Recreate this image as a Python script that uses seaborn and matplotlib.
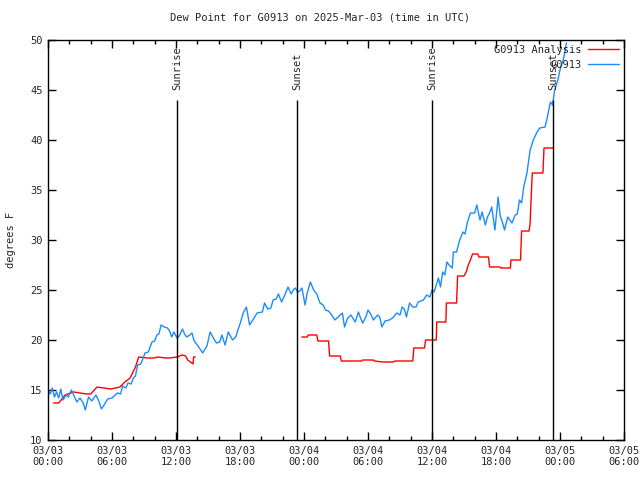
import numpy as np
import pandas as pd
import matplotlib
matplotlib.use("Agg")
import matplotlib.pyplot as plt
from matplotlib.lines import Line2D
import seaborn as sns
from matplotlib.ticker import MultipleLocator, FixedLocator

# ---------------- data (hours since 2025-03-03 00:00 UTC) ----------------
blue_hours = [0.0, 0.2, 0.4, 0.6, 0.8, 1.0, 1.2, 1.4, 1.7, 1.9, 2.2, 2.7, 3.0, 3.3, 3.5,
              3.8, 4.1, 4.5, 4.8, 5.0, 5.2, 5.6, 6.0, 6.5, 6.8, 7.0, 7.3, 7.5, 7.8, 8.0,
              8.2, 8.4, 8.7, 9.1, 9.4, 9.75, 10.0, 10.2, 10.4, 10.6, 10.9, 11.2, 11.4, 11.6,
              11.8, 12.1, 12.3, 12.6, 12.8, 13.0, 13.3, 13.5, 13.7, 14.0, 14.5, 14.9, 15.2,
              15.5, 15.8, 16.1, 16.3, 16.6, 16.9, 17.1, 17.3, 17.6, 17.8, 18.0, 18.3, 18.6,
              18.9, 19.2, 19.6, 20.1, 20.3, 20.6, 20.9, 21.1, 21.4, 21.6, 21.9, 22.2, 22.5,
              22.8, 23.0, 23.2, 23.4, 23.6, 23.8, 24.1, 24.3, 24.6, 24.9, 25.2, 25.5, 25.8,
              26.0, 26.3, 26.6, 26.9, 27.2, 27.6, 27.8, 28.1, 28.4, 28.8, 29.1, 29.3, 29.5,
              29.8, 30.0, 30.3, 30.5, 30.9, 31.1, 31.3, 31.6, 32.0, 32.3, 32.7, 33.0, 33.2,
              33.4, 33.6, 33.9, 34.2, 34.5, 34.7, 35.2, 35.5, 35.8, 36.0, 36.2, 36.4, 36.6,
              36.8, 37.0, 37.2, 37.4, 37.6, 37.9, 38.0, 38.3, 38.6, 38.9, 39.1, 39.3, 39.6,
              40.0, 40.2, 40.5, 40.7, 41.0, 41.2, 41.4, 41.6, 41.9, 42.2, 42.4, 42.6, 42.8,
              43.1, 43.5, 43.8, 44.0, 44.2, 44.4, 44.6, 44.9, 45.2, 45.5, 45.8, 46.1, 46.6,
              46.8, 47.1, 47.3, 47.5, 47.8, 48.0, 48.3, 48.5, 48.6]
blue_values = [15.0, 14.6, 15.2, 14.3, 14.8, 14.2, 15.1, 14.0, 14.5, 14.3, 15.0, 13.8, 14.2, 13.7, 13.0,
               14.3, 13.9, 14.5, 13.8, 13.1, 13.4, 14.1, 14.2, 14.7, 14.6, 15.4, 15.2, 15.7, 15.6, 16.2,
               16.4, 17.5, 17.6, 18.7, 18.8, 19.8, 19.9, 20.5, 20.6, 21.5, 21.3, 21.2, 20.9, 20.3,
               20.8, 20.2, 20.4, 21.1, 20.6, 20.3, 20.5, 20.7, 19.9, 19.5, 18.7, 19.4, 20.8,
               20.2, 19.7, 19.8, 20.5, 19.5, 20.8, 20.4, 20.0, 20.3, 21.0, 21.6, 22.7, 23.3,
               21.5, 22.0, 22.7, 22.8, 23.7, 23.1, 23.2, 24.0, 24.1, 24.6, 23.8, 24.5, 25.3,
               24.6, 25.0, 25.2, 24.8, 24.9, 25.2, 23.5, 24.7, 25.8, 25.0, 24.6, 23.7, 23.5,
               23.0, 22.9, 22.5, 22.0, 22.3, 22.7, 21.3, 22.2, 22.5, 21.8, 22.8, 22.2, 21.7,
               22.3, 23.0, 22.5, 22.0, 22.5, 22.3, 21.3, 21.9, 22.0, 22.2, 22.7, 22.5, 23.3,
               23.1, 22.3, 23.7, 23.3, 23.3, 23.8, 24.0, 24.5, 24.3, 25.0, 24.8, 25.5, 26.2,
               25.3, 26.8, 26.5, 27.8, 27.5, 27.2, 28.8, 28.8, 30.0, 30.8, 30.6, 31.7, 32.7,
               32.7, 33.5, 32.0, 32.8, 31.5, 32.3, 32.7, 33.3, 31.0, 34.3, 32.4, 31.8, 31.0,
               32.3, 31.7, 32.5, 32.6, 34.0, 33.7, 35.3, 36.7, 39.0, 40.0, 40.7, 41.2, 41.3,
               42.2, 43.8, 43.5, 45.0, 46.0, 47.0, 48.0, 49.0, 49.7]

red1_hours = [0.5, 1.0, 1.6, 2.4, 3.0, 3.6, 4.0, 4.6, 5.2, 5.9, 6.75, 7.2, 7.7, 8.2, 8.5,
              9.3, 9.9, 10.3, 11.0, 11.4, 12.1, 12.6, 12.9, 13.1, 13.6, 13.65, 13.8]
red1_values = [13.7, 13.7, 14.5, 14.8, 14.7, 14.6, 14.6, 15.3, 15.2, 15.1, 15.3, 15.8, 16.2, 17.3, 18.3,
               18.2, 18.2, 18.3, 18.2, 18.2, 18.3, 18.5, 18.4, 18.0, 17.6, 18.3, 18.3]
red2_hours = [23.8, 24.3, 24.4, 25.2, 25.3, 26.3, 26.4, 27.4, 27.5, 29.4, 29.5, 30.5, 30.6, 31.4,
              32.4, 32.5, 34.2, 34.3, 35.3, 35.4, 36.4, 36.45, 37.3, 37.35, 38.3, 38.4, 39.0,
              39.2, 39.4, 39.6, 39.8, 40.3, 40.4, 41.3, 41.4, 42.4, 42.45, 43.35, 43.4, 44.3,
              44.4, 45.1, 45.2, 45.3, 45.4, 46.4, 46.5, 47.4]
red2_values = [20.3, 20.3, 20.5, 20.5, 19.9, 19.9, 18.4, 18.4, 17.9, 17.9, 18.0, 18.0, 17.9, 17.8,
               17.8, 17.9, 17.9, 19.2, 19.2, 20.0, 20.0, 21.8, 21.8, 23.7, 23.7, 26.4, 26.4,
               26.8, 27.5, 28.0, 28.6, 28.6, 28.3, 28.3, 27.3, 27.3, 27.2, 27.2, 28.0, 28.0,
               30.9, 30.9, 31.7, 34.3, 36.7, 36.7, 39.2, 39.2]

event_hours = [12.09, 23.34, 36.0, 47.34]
event_labels = ["Sunrise", "Sunset", "Sunrise", "Sunset"]

xtick_hours = [0, 6, 12, 18, 24, 30, 36, 42, 48, 54]
xtick_labels = ["03/03\n00:00", "03/03\n06:00", "03/03\n12:00", "03/03\n18:00",
                "03/04\n00:00", "03/04\n06:00", "03/04\n12:00", "03/04\n18:00",
                "03/05\n00:00", "03/05\n06:00"]

series_names = ["G0913 Analysis", "G0913"]

# ---------------- styling ----------------
sns.set_style("white")
plt.rcParams["font.family"] = ["DejaVu Sans Mono"]
plt.rcParams["font.size"] = 7.5

RED = "#ff0000"
BLUE = "#1a8cff"

fig = plt.figure(figsize=(6.4, 4.8), dpi=100)
ax = fig.add_axes([48 / 640, 40 / 480, 576 / 640, 400 / 480])

red_df = pd.concat([
    pd.DataFrame({"hour": red1_hours, "value": red1_values, "seg": 1}),
    pd.DataFrame({"hour": red2_hours, "value": red2_values, "seg": 2}),
])
blue_df = pd.DataFrame({"hour": blue_hours, "value": blue_values})

sns.lineplot(data=red_df, x="hour", y="value", units="seg", estimator=None, sort=False,
             color=RED, lw=1.0, ax=ax, legend=False)
sns.lineplot(data=blue_df, x="hour", y="value", estimator=None, sort=False,
             color=BLUE, lw=1.0, ax=ax, legend=False)

for h, lab in zip(event_hours, event_labels):
    ax.vlines(h, 10, 44, color="black", lw=1.0)
    ax.text(h, 45, lab, rotation=90, ha="center", va="bottom", fontsize=7.5)

ax.set_xlim(0, 54)
ax.set_ylim(10, 50)
ax.xaxis.set_major_locator(FixedLocator(xtick_hours))
ax.set_xticklabels(xtick_labels)
ax.xaxis.set_minor_locator(MultipleLocator(2))
ax.yaxis.set_major_locator(MultipleLocator(5))
ax.tick_params(which="both", direction="in", top=True, right=True, bottom=True, left=True,
               color="black", width=1)
ax.tick_params(which="major", length=6, pad=4)
ax.tick_params(which="minor", length=3)
for s in ax.spines.values():
    s.set_color("black")
    s.set_linewidth(1)

ax.set_xlabel("")
ax.set_ylabel("degrees F", labelpad=10)
fig.suptitle("Dew Point for G0913 on 2025-Mar-03 (time in UTC)", y=0.975, fontsize=7.5)

handles = [Line2D([], [], color=RED, lw=1.0), Line2D([], [], color=BLUE, lw=1.0)]
ax.legend(handles, series_names, loc="upper right", frameon=False, markerfirst=False,
          handlelength=3.0, borderaxespad=0.05, labelspacing=0.5, handletextpad=0.6)

fig.savefig("out.png", dpi=100)
